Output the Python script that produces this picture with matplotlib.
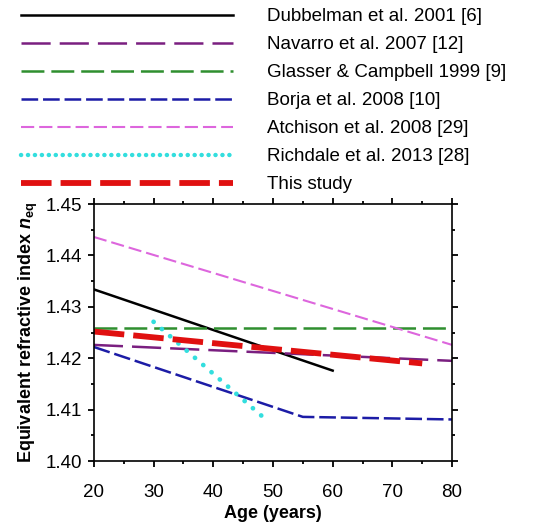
import matplotlib
matplotlib.use('Agg')
import matplotlib.pyplot as plt
from matplotlib.ticker import MultipleLocator
from matplotlib.lines import Line2D

plt.rcParams['font.family'] = ['Liberation Sans', 'DejaVu Sans']
plt.rcParams['mathtext.fontset'] = 'custom'
plt.rcParams['mathtext.rm'] = 'Liberation Sans:bold'
plt.rcParams['mathtext.bf'] = 'Liberation Sans:bold'
plt.rcParams['mathtext.it'] = 'Liberation Sans:bold:italic'
plt.rcParams['lines.scale_dashes'] = False

labels = ['Dubbelman et al. 2001 [6]', 'Navarro et al. 2007 [12]',
          'Glasser & Campbell 1999 [9]', 'Borja et al. 2008 [10]',
          'Atchison et al. 2008 [29]', 'Richdale et al. 2013 [28]', 'This study']
dub_age = [20, 60]
dub_n = [1.4334, 1.4176]
nav_age = [20, 80]
nav_n = [1.4226, 1.4195]
gla_age = [20, 80]
gla_n = [1.4258, 1.4258]
bor_age = [20, 55, 80]
bor_n = [1.4222, 1.4086, 1.4081]
atc_age = [20, 80]
atc_n = [1.4436, 1.4226]
ric_age = [30, 48.5]
ric_n = [1.4271, 1.4084]
our_age = [20, 75]
our_n = [1.4252, 1.4190]

fig = plt.figure(figsize=(5.52, 5.30), dpi=100)
ax = fig.add_axes([0.170, 0.130, 0.649, 0.485])

h = []
h += ax.plot(dub_age, dub_n, color='black', lw=1.8)
h += ax.plot(nav_age, nav_n, color='#7a1f80', lw=1.8, dashes=(21, 6.5))
h += ax.plot(gla_age, gla_n, color='#2f8f2f', lw=1.8, dashes=(16.5, 5))
h += ax.plot(bor_age, bor_n, color='#1c1ca6', lw=1.8, dashes=(12, 3.5))
h += ax.plot(atc_age, atc_n, color='#dd66dd', lw=1.5, dashes=(9.5, 3.6))
ax.plot(ric_age, ric_n, color='#33dede', lw=3.4, dashes=(0.1, 7.8),
        dash_capstyle='round')
h.append(Line2D([], [], color='#33dede', lw=3.2, dashes=(0.1, 4.9),
                dash_capstyle='round'))
h += ax.plot(our_age, our_n, color='#e01010', lw=4.2, dashes=(22, 6.5))

ax.set_xlim(20, 80)
ax.set_ylim(1.40, 1.45)
ax.xaxis.set_major_locator(MultipleLocator(10))
ax.xaxis.set_minor_locator(MultipleLocator(5))
ax.yaxis.set_minor_locator(MultipleLocator(0.005))
ax.set_yticks([1.40, 1.41, 1.42, 1.43, 1.44, 1.45])
ax.set_yticklabels(['1.40', '1.41', '1.42', '1.43', '1.44', '1.45'])
ax.tick_params(which='both', direction='out', top=True, right=True,
               labelsize=13.5, width=1.3)
ax.tick_params(which='major', length=4.5)
ax.tick_params(which='minor', length=2.5)
ax.tick_params(axis='x', which='major', pad=12)
ax.tick_params(axis='y', which='major', pad=4)
for s in ax.spines.values():
    s.set_linewidth(1.2)

ax.set_xlabel('Age (years)', fontsize=13, fontweight='bold', labelpad=3)
ax.set_ylabel(r'Equivalent refractive index $\mathit{n}_{\mathbf{eq}}$',
              fontsize=13, fontweight='bold', labelpad=4)

fig.legend(h, labels, loc='upper left', bbox_to_anchor=(0.025, 0.999),
           frameon=False, fontsize=13.5, handlelength=11.3, handletextpad=1.8,
           labelspacing=0.58, borderaxespad=0)

fig.savefig('out.png', dpi=100)
